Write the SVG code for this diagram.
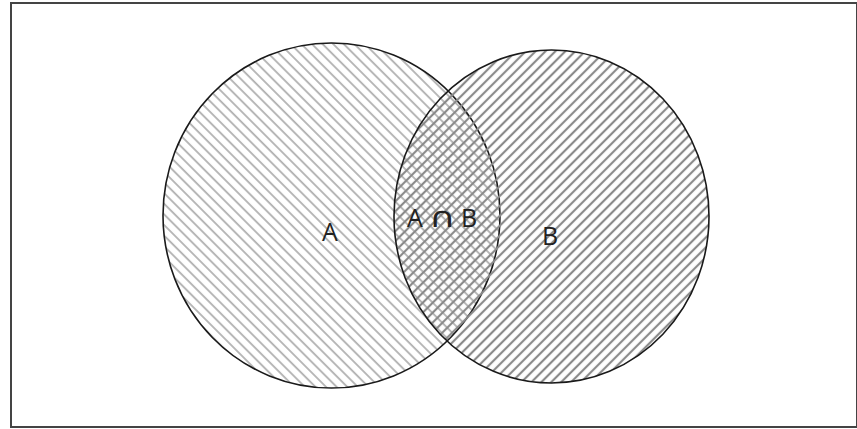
<svg xmlns="http://www.w3.org/2000/svg" width="857" height="429" viewBox="0 0 857 429">
  <defs>
    <pattern id="hatchA" patternUnits="userSpaceOnUse" width="7.5" height="7.5" patternTransform="rotate(-45)">
      <line x1="2" y1="0" x2="2" y2="7.5" stroke="#b0b0b0" stroke-width="1.8"/>
    </pattern>
    <pattern id="hatchB" patternUnits="userSpaceOnUse" width="7" height="7" patternTransform="rotate(45)">
      <line x1="2" y1="0" x2="2" y2="7" stroke="#8a8a8a" stroke-width="2.2"/>
    </pattern>
  </defs>
  <style>
    .lbl { font-family: "Open Sans", "Liberation Sans", sans-serif; font-size: 25px; fill: #222; }
    .sym { font-family: "DejaVu Sans", sans-serif; font-size: 28px; fill: #222; }
    .set { stroke: #1a1a1a; stroke-width: 1.6; }
  </style>
  <rect x="0" y="0" width="857" height="429" fill="#ffffff"/>
  <rect x="11" y="3" width="846" height="424" fill="#ffffff" stroke="#444444" stroke-width="2"/>
  <g id="setA">
    <ellipse class="set" cx="331.5" cy="215.5" rx="168.5" ry="172.5" fill="url(#hatchA)"/>
  </g>
  <g id="setB">
    <ellipse class="set" cx="551.5" cy="216.5" rx="157.5" ry="166.5" fill="url(#hatchB)"/>
  </g>
  <g id="labels">
    <text class="lbl" x="322" y="241">A</text>
    <text class="lbl" x="407" y="227">A</text>
    <text class="sym" transform="translate(429,227) scale(1.3,1)" x="0" y="0">∩</text>
    <text class="lbl" x="461" y="227">B</text>
    <text class="lbl" x="542" y="245">B</text>
  </g>
</svg>
